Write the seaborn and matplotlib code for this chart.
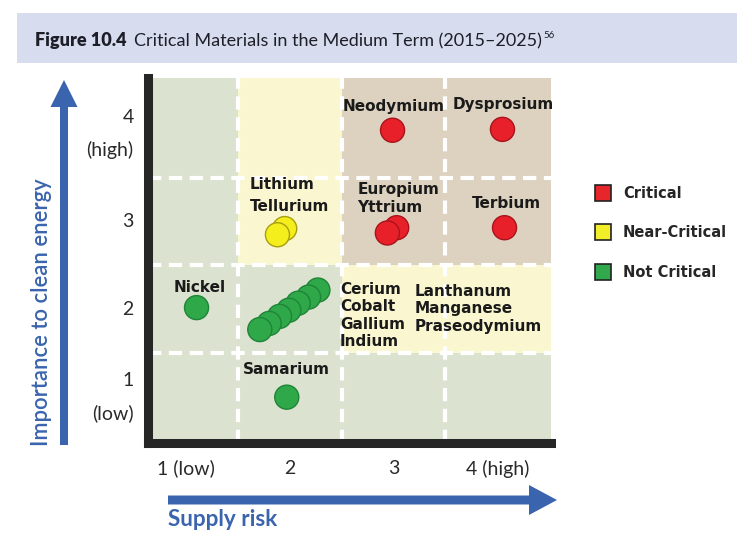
import numpy as np
import pandas as pd
import seaborn as sns
import matplotlib.pyplot as plt
from matplotlib.colors import ListedColormap
from matplotlib.patches import Rectangle, FancyArrow
from matplotlib.lines import Line2D

# --- data ---
materials = ["Neodymium", "Dysprosium", "Europium", "Yttrium", "Terbium",
             "Lithium", "Tellurium", "Nickel",
             "Praseodymium", "Manganese", "Lanthanum", "Indium",
             "Gallium", "Cobalt", "Cerium", "Samarium"]
supply_risk = [2.99, 4.05, 3.03, 2.94, 4.07,
               1.95, 1.88, 1.10,
               2.27, 2.18, 2.08, 1.99, 1.90, 1.80, 1.71, 1.97]
importance = [4.04, 4.05, 2.93, 2.87, 2.93,
              2.92, 2.85, 2.02,
              2.22, 2.14, 2.07, 1.99, 1.92, 1.84, 1.77, 1.00]
status = ["Critical", "Critical", "Critical", "Critical", "Critical",
          "Near-Critical", "Near-Critical", "Not Critical",
          "Not Critical", "Not Critical", "Not Critical", "Not Critical",
          "Not Critical", "Not Critical", "Not Critical", "Not Critical"]

x_ticks = [1, 2, 3, 4]
x_ticklabels = ["1 (low)", "2", "3", "4 (high)"]
y_ticks = [1, 2, 3, 4]
y_ticklabels = ["1\n(low)", "2", "3", "4\n(high)"]

# background zones: rows = importance 1..4 (bottom up), cols = supply risk 1..4
# 0 = not critical, 1 = near-critical, 2 = critical
zones = [[0, 0, 0, 0],
         [0, 0, 1, 1],
         [0, 1, 2, 2],
         [0, 1, 2, 2]]

status_order = ["Critical", "Near-Critical", "Not Critical"]
fill = {"Critical": "#e8202a", "Near-Critical": "#f4ee1c", "Not Critical": "#2fa84a"}
edge = {"Critical": "#a8141c", "Near-Critical": "#a89e10", "Not Critical": "#1f8437"}
legend_fill = {"Critical": "#e6262b", "Near-Critical": "#f3ee2a", "Not Critical": "#31a84b"}
zone_colors = ["#dbe2d0", "#faf7d0", "#ddd1bf"]

df = pd.DataFrame({"material": materials, "supply": supply_risk,
                   "importance": importance, "status": status})

sns.set_style("white")
plt.rcParams["font.family"] = ["Lato", "DejaVu Sans"]

fig = plt.figure(figsize=(7.52, 5.48), dpi=100)
ax = fig.add_axes([147.5 / 752, 1 - 443 / 548, 403.5 / 752, 365 / 548])

xlim = (0.627, 4.518)
ylim = (0.478, 4.635)
x_edges = [xlim[0], 1.5, 2.5, 3.5, xlim[1]]
y_edges = [ylim[0], 1.5, 2.5, 3.5, ylim[1]]
ax.pcolormesh(x_edges, y_edges, np.array(zones), cmap=ListedColormap(zone_colors),
              vmin=-0.5, vmax=2.5, shading="flat", zorder=0)

for v in [1.5, 2.5, 3.5]:
    ax.axvline(v, color="white", lw=3, dashes=(3.2, 1.8), zorder=1)
    ax.axhline(v, color="white", lw=3, dashes=(3.2, 1.8), zorder=1)

sns.scatterplot(data=df, x="supply", y="importance", hue="status",
                palette=fill, s=300, linewidth=1, legend=False, ax=ax, zorder=3)
ax.collections[-1].set_edgecolor([edge[s] for s in status])

# material labels
bold = dict(family=["DejaVu Sans"], fontweight="bold", fontsize=11, color="#1a1a1a")
labels = [("Neodymium", 3.00, 4.31, "center"),
          ("Dysprosium", 4.06, 4.33, "center"),
          ("Europium", 2.65, 3.36, "left"),
          ("Yttrium", 2.65, 3.155, "left"),
          ("Lithium", 1.615, 3.42, "left"),
          ("Tellurium", 1.615, 3.166, "left"),
          ("Terbium", 4.09, 3.20, "center"),
          ("Nickel", 1.13, 2.245, "center"),
          ("Samarium", 1.97, 1.31, "center")]
for txt, lx, ly, ha in labels:
    ax.text(lx, ly, txt, ha=ha, va="center", zorder=4, **bold)
ax.text(2.483, 2.312, "Cerium\nCobalt\nGallium\nIndium", ha="left", va="top",
        linespacing=1.2, zorder=4, **bold)
ax.text(3.206, 2.29, "Lanthanum\nManganese\nPraseodymium", ha="left", va="top",
        linespacing=1.2, zorder=4, **bold)

ax.set_xlim(xlim)
ax.set_ylim(ylim)
ax.set_xticks(x_ticks)
ax.set_xticklabels(x_ticklabels)
ax.set_yticks(y_ticks)
ax.set_yticklabels(y_ticklabels)
ax.set_xlabel("")
ax.set_ylabel("")
ax.tick_params(axis="x", length=0, pad=12, labelsize=14, labelcolor="#2a2a2a")
ax.tick_params(axis="y", length=0, pad=10, labelsize=14, labelcolor="#2a2a2a")
for t in ax.get_yticklabels():
    t.set_linespacing(2.0)
    t.set_verticalalignment("center")
for side in ["top", "right"]:
    ax.spines[side].set_visible(False)
for side in ["left", "bottom"]:
    ax.spines[side].set_linewidth(6.5)
    ax.spines[side].set_color("#262626")
    ax.spines[side].set_zorder(5)

# legend
handles = [Line2D([], [], marker="s", ls="", markersize=11.5, markerfacecolor=legend_fill[k],
                  markeredgecolor="#222222", markeredgewidth=1.2, label=k) for k in status_order]
fig.legend(handles=handles, loc="upper left", bbox_to_anchor=(0.7921, 0.661),
           frameon=False, borderpad=0, borderaxespad=0, handlelength=1.0,
           handletextpad=0.87, labelspacing=1.68,
           prop=dict(family=["DejaVu Sans"], weight="bold", size=10.5))

# blue axis arrows and titles
blue = "#3a64ae"
fig.add_artist(FancyArrow(1.68, 0.48, 3.89, 0, width=0.09, head_width=0.30, head_length=0.28,
                          length_includes_head=True, color=blue, lw=0,
                          transform=fig.dpi_scale_trans))
fig.add_artist(FancyArrow(0.64, 1.03, 0, 3.65, width=0.08, head_width=0.27, head_length=0.27,
                          length_includes_head=True, color=blue, lw=0,
                          transform=fig.dpi_scale_trans))
fig.text(42 / 752, 1 - 312 / 548, "Importance to clean energy", rotation=90,
         ha="center", va="center", fontsize=15.8, color=blue, fontweight="semibold")
fig.text(168 / 752, 1 - 520 / 548, "Supply risk", ha="left", va="center",
         fontsize=16.2, color=blue, fontweight="bold")

# title band
fig.add_artist(Rectangle((17 / 752, 1 - 63 / 548), 720 / 752, 50 / 548,
                         transform=fig.transFigure, color="#d7dcef", lw=0, zorder=0))
r = fig.canvas.get_renderer()
t1 = fig.text(35 / 752, 1 - 46 / 548, "Figure 10.4", fontweight="heavy",
              fontsize=13, color="#1e1e28", va="baseline")
bb = t1.get_window_extent(r)
t2 = fig.text((bb.x1 + 8) / 752, 1 - 46 / 548, "Critical Materials in the Medium Term (2015\u20132025)",
              fontsize=13, color="#1e1e28", va="baseline")
bb = t2.get_window_extent(r)
fig.text((bb.x1 + 1) / 752, 1 - 38 / 548, "56", fontsize=7,
         color="#1e1e28", va="baseline")

fig.savefig("out.png", dpi=100, facecolor="white")
